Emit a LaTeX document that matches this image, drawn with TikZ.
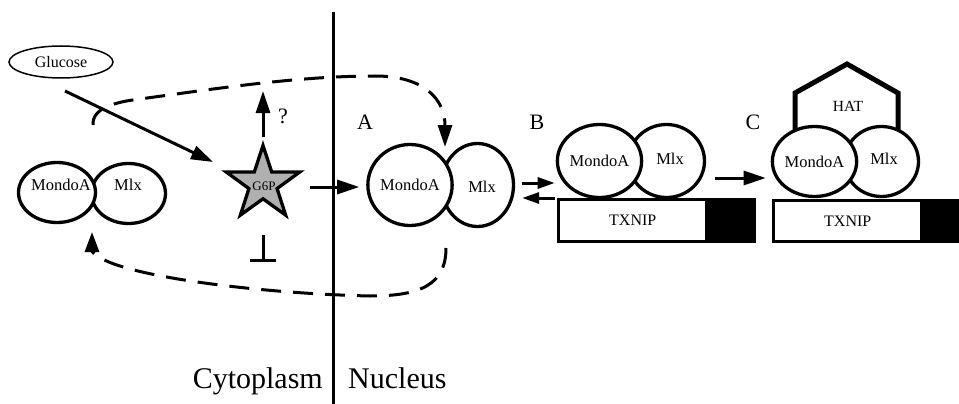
\documentclass[tikz,border=0pt]{standalone}
\usepackage{fontspec}
\setmainfont{Liberation Serif}
\usetikzlibrary{arrows.meta,shapes.geometric}
\begin{document}
\begin{tikzpicture}[x=1pt,y=-1pt,
  blob/.style={ellipse,draw,line width=3.3pt,fill=white,inner sep=0pt,font=\fontsize{16.5}{18}\selectfont},
  arr/.style={line width=3pt,-{Triangle[length=22pt,width=14pt]}},
  sarr/.style={line width=3pt,-{Triangle[length=17pt,width=11pt]}},
  dsh/.style={line width=3pt,dash pattern=on 20pt off 12pt},
  lbl/.style={font=\fontsize{22}{24}\selectfont,inner sep=0pt},
  big/.style={font=\fontsize{30}{32}\selectfont,inner sep=0pt},
  gene/.style={draw,line width=3.3pt,inner sep=0pt,font=\fontsize{16}{18}\selectfont},
  prom/.style={fill=black,inner sep=0pt},
]
\useasboundingbox (0,0) rectangle (959,404);
% membrane
\coordinate (memtop) at (333,12);
\coordinate (membot) at (333,404);
\draw[line width=3pt] (memtop) -- (membot);
% glucose
\node[blob,minimum width=104pt,minimum height=32pt,line width=1.5pt,font=\fontsize{16}{18}\selectfont] (glu) at (61,62) {Glucose};
% left complex
\node[blob,minimum width=74pt,minimum height=60pt] (mlx1) at (128.5,193.5) {};
\node[blob,minimum width=77pt,minimum height=60pt] (mA1) at (57,192.5) {};
\node[font=\fontsize{16.5}{18}\selectfont,inner sep=0pt] (t1a) at (61,185) {MondoA};
\node[font=\fontsize{16.5}{18}\selectfont,inner sep=0pt] (t1b) at (128,185) {Mlx};
% G6P star
\node[star,star points=5,star point ratio=2.6,minimum size=77pt,inner sep=0pt,draw,line width=3.3pt,fill=gray!62] (g6p) at (263,184) {};
\node[font=\fontsize{13}{14}\selectfont,inner sep=0pt] (g6pt) at (264,186) {G6P};
% middle complex
\node[blob,minimum width=72pt,minimum height=83pt] (mlx2) at (477.5,185) {};
\node[blob,minimum width=83pt,minimum height=81pt] (mA2) at (410,185) {MondoA};
\node[font=\fontsize{16.5}{18}\selectfont,inner sep=0pt] (t2b) at (482,187) {Mlx};
% B complex
\node[gene,minimum width=148.5pt,minimum height=42pt] (tx3) at (632.75,220.5) {TXNIP};
\node[prom,minimum width=49pt,minimum height=45pt] (pr3) at (731.5,220.5) {};
\node[blob,minimum width=76pt,minimum height=73pt] (mlx3) at (666.5,161) {};
\node[blob,minimum width=82pt,minimum height=73pt] (mA3) at (599.5,161) {MondoA};
\node[font=\fontsize{16.5}{18}\selectfont,inner sep=0pt] (t3b) at (670,159) {Mlx};
% C complex
\node[gene,minimum width=148.5pt,minimum height=41pt] (tx4) at (847.75,221) {TXNIP};
\node[prom,minimum width=40pt,minimum height=44pt] (pr4) at (942,221) {};
\node[font=\fontsize{15.5}{17}\selectfont,inner sep=0pt] (hat) at (848,106) {HAT};
\draw[line width=5pt,miter limit=10] ([shift={(-53,34)}]hat.center) -- ([shift={(-53,-13)}]hat.center) -- ([shift={(-1,-42)}]hat.center) -- ([shift={(50,-13)}]hat.center) -- ([shift={(50,34)}]hat.center);
\node[blob,minimum width=74pt,minimum height=70pt] (mlx4) at (881.5,161.5) {};
\node[blob,minimum width=82pt,minimum height=70pt] (mA4) at (814.5,161.5) {MondoA};
\node[font=\fontsize{16.5}{18}\selectfont,inner sep=0pt] (t4b) at (884,159) {Mlx};
% labels
\node[lbl] (lA) at (365,122) {A};
\node[lbl] (lB) at (537,122) {B};
\node[lbl] (lC) at (753,122) {C};
\node[font=\fontsize{22}{24}\selectfont,inner sep=0pt] (q) at (283,116) {?};
\node[big,anchor=base east] (cyt) at (323,388) {Cytoplasm};
\node[big,anchor=base west] (nuc) at (348,388) {Nucleus};
% arrows
\draw[arr] ([shift={(4,29)}]glu.center) -- ([shift={(-50,-22)}]g6p.center);
\draw[arr] ([shift={(0,-47)}]g6p.center) -- ([shift={(0,-93)}]g6p.center);
\draw[line width=3pt,-{Bar[width=26pt,line width=3pt]}] ([shift={(0,51)}]g6p.center) -- ([shift={(0,78)}]g6p.center);
\draw[arr] ([shift={(47,3)}]g6p.center) -- ([shift={(-7,2)}]mA2.west);
\draw[sarr] ([shift={(7,-2)}]mlx2.east) -- ([shift={(-1,22)}]mA3.west);
\draw[sarr] ([shift={(-1,37)}]mA3.west) -- ([shift={(7,13)}]mlx2.east);
\draw[arr] ([shift={(9,17)}]mlx3.east) -- ([shift={(-5,16.5)}]mA4.west);
\draw[sarr] (tx4.north east) |- ([shift={(17,14)}]pr4.north east);
% dashed feedback loops
\draw[dsh,-{Triangle[length=22pt,width=14pt]}] ([shift={(36,-67.5)}]mA1.center) .. controls (92,108) and (115,102) .. (140,99) .. controls (220,88) and (300,76) .. (375,76) .. controls (425,76) and (445,100) .. ([shift={(35,-38)}]mA2.center);
\draw[dsh,-{Triangle[length=20pt,width=14pt]}] ([shift={(36,63)}]mA2.center) .. controls (446,285) and (420,296) .. (370,296) .. controls (280,294) and (170,282) .. (120,266) .. controls (100,260) and (92,252) .. ([shift={(35,39.5)}]mA1.center);
\end{tikzpicture}
\end{document}
